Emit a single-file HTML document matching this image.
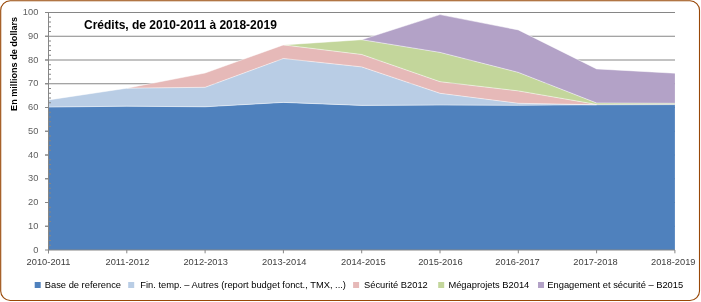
<!DOCTYPE html>
<html><head><meta charset="utf-8"><style>
html,body{margin:0;padding:0;background:#fff;}
body{width:701px;height:302px;overflow:hidden;}
svg{display:block;will-change:transform;}
text{font-family:"Liberation Sans",sans-serif;}
.ax{font-size:9.7px;fill:#606060;}
.ax2{font-size:9.7px;fill:#404040;}
.lg{font-size:9.33px;fill:#000;}
.title{font-size:12px;font-weight:bold;fill:#000;}
.yt{font-size:9.1px;font-weight:bold;fill:#000;}
</style></head><body>
<svg width="701" height="302" viewBox="0 0 701 302">
<rect x="0" y="0" width="701" height="302" fill="#fff"/>
<line x1="45" y1="226.25" x2="675" y2="226.25" stroke="#868686" stroke-width="1"/><line x1="45" y1="202.5" x2="675" y2="202.5" stroke="#868686" stroke-width="1"/><line x1="45" y1="178.75" x2="675" y2="178.75" stroke="#868686" stroke-width="1"/><line x1="45" y1="155" x2="675" y2="155" stroke="#868686" stroke-width="1"/><line x1="45" y1="131.25" x2="675" y2="131.25" stroke="#868686" stroke-width="1"/><line x1="45" y1="107.5" x2="675" y2="107.5" stroke="#868686" stroke-width="1"/><line x1="45" y1="83.75" x2="675" y2="83.75" stroke="#868686" stroke-width="1"/><line x1="45" y1="60" x2="675" y2="60" stroke="#868686" stroke-width="1"/><line x1="45" y1="36.25" x2="675" y2="36.25" stroke="#868686" stroke-width="1"/><line x1="45" y1="12.5" x2="675" y2="12.5" stroke="#868686" stroke-width="1"/>
<polygon points="48.5,107.1 126.8,106.2 205.1,106.8 283.4,102.4 361.7,105.4 440,105.1 518.3,105.3 596.6,104.8 674.9,104.6 674.9,250 48.5,250" fill="#4F81BD"/><polygon points="48.5,99.9 126.8,88.2 205.1,87.3 283.4,58.5 361.7,66.9 440,93.3 518.3,103.3 596.6,104.8 674.9,104.6 674.9,104.6 596.6,104.8 518.3,105.3 440,105.1 361.7,105.4 283.4,102.4 205.1,106.8 126.8,106.2 48.5,107.1" fill="#B9CDE5"/><polygon points="48.5,99.9 126.8,88.2 205.1,73 283.4,44.9 361.7,54.5 440,81.7 518.3,90.9 596.6,104.4 674.9,104.3 674.9,104.6 596.6,104.8 518.3,103.3 440,93.3 361.7,66.9 283.4,58.5 205.1,87.3 126.8,88.2 48.5,99.9" fill="#E6B9B8"/><polygon points="48.5,99.9 126.8,88.2 205.1,73 283.4,44.9 361.7,39.7 440,52.4 518.3,72.4 596.6,103 674.9,103.3 674.9,104.3 596.6,104.4 518.3,90.9 440,81.7 361.7,54.5 283.4,44.9 205.1,73 126.8,88.2 48.5,99.9" fill="#C3D69B"/><polygon points="48.5,99.9 126.8,88.2 205.1,73.1 283.4,44.9 361.7,39.7 440,14.6 518.3,29.9 596.6,68.9 674.9,73.2 674.9,103.3 596.6,103 518.3,72.4 440,52.4 361.7,39.7 283.4,44.9 205.1,73 126.8,88.2 48.5,99.9" fill="#B3A2C7"/>
<line x1="48.5" y1="107.1" x2="126.8" y2="106.2" stroke="#fff" stroke-width="0.5"/><line x1="126.8" y1="106.2" x2="205.1" y2="106.8" stroke="#fff" stroke-width="0.5"/><line x1="205.1" y1="106.8" x2="283.4" y2="102.4" stroke="#fff" stroke-width="0.5"/><line x1="283.4" y1="102.4" x2="361.7" y2="105.4" stroke="#fff" stroke-width="0.5"/><line x1="361.7" y1="105.4" x2="440" y2="105.1" stroke="#fff" stroke-width="0.5"/><line x1="440" y1="105.1" x2="518.3" y2="105.3" stroke="#fff" stroke-width="0.5"/><line x1="518.3" y1="105.3" x2="596.6" y2="104.8" stroke="#fff" stroke-width="0.5"/><line x1="596.6" y1="104.8" x2="674.9" y2="104.6" stroke="#fff" stroke-width="0.5"/><line x1="48.5" y1="99.9" x2="126.8" y2="88.2" stroke="#fff" stroke-width="0.5"/><line x1="126.8" y1="88.2" x2="205.1" y2="87.3" stroke="#fff" stroke-width="0.5"/><line x1="205.1" y1="87.3" x2="283.4" y2="58.5" stroke="#fff" stroke-width="0.5"/><line x1="283.4" y1="58.5" x2="361.7" y2="66.9" stroke="#fff" stroke-width="0.5"/><line x1="361.7" y1="66.9" x2="440" y2="93.3" stroke="#fff" stroke-width="0.5"/><line x1="440" y1="93.3" x2="518.3" y2="103.3" stroke="#fff" stroke-width="0.5"/><line x1="518.3" y1="103.3" x2="596.6" y2="104.8" stroke="#fff" stroke-width="0.5"/><line x1="126.8" y1="88.2" x2="205.1" y2="73" stroke="#fff" stroke-width="0.5"/><line x1="205.1" y1="73" x2="283.4" y2="44.9" stroke="#fff" stroke-width="0.5"/><line x1="283.4" y1="44.9" x2="361.7" y2="54.5" stroke="#fff" stroke-width="0.5"/><line x1="361.7" y1="54.5" x2="440" y2="81.7" stroke="#fff" stroke-width="0.5"/><line x1="440" y1="81.7" x2="518.3" y2="90.9" stroke="#fff" stroke-width="0.5"/><line x1="518.3" y1="90.9" x2="596.6" y2="104.4" stroke="#fff" stroke-width="0.5"/><line x1="283.4" y1="44.9" x2="361.7" y2="39.7" stroke="#fff" stroke-width="0.5"/><line x1="361.7" y1="39.7" x2="440" y2="52.4" stroke="#fff" stroke-width="0.5"/><line x1="440" y1="52.4" x2="518.3" y2="72.4" stroke="#fff" stroke-width="0.5"/><line x1="518.3" y1="72.4" x2="596.6" y2="103" stroke="#fff" stroke-width="0.5"/><line x1="596.6" y1="103" x2="674.9" y2="103.3" stroke="#fff" stroke-width="0.5"/><line x1="361.7" y1="39.7" x2="440" y2="14.6" stroke="#fff" stroke-width="0.5"/><line x1="440" y1="14.6" x2="518.3" y2="29.9" stroke="#fff" stroke-width="0.5"/><line x1="518.3" y1="29.9" x2="596.6" y2="68.9" stroke="#fff" stroke-width="0.5"/><line x1="596.6" y1="68.9" x2="674.9" y2="73.2" stroke="#fff" stroke-width="0.5"/>
<line x1="48.5" y1="12" x2="48.5" y2="253.3" stroke="#868686" stroke-width="1"/>
<line x1="48.5" y1="250" x2="675" y2="250" stroke="#868686" stroke-width="1"/>
<line x1="45" y1="250" x2="48.5" y2="250" stroke="#868686" stroke-width="1"/><line x1="45" y1="226.25" x2="48.5" y2="226.25" stroke="#868686" stroke-width="1"/><line x1="45" y1="202.5" x2="48.5" y2="202.5" stroke="#868686" stroke-width="1"/><line x1="45" y1="178.75" x2="48.5" y2="178.75" stroke="#868686" stroke-width="1"/><line x1="45" y1="155" x2="48.5" y2="155" stroke="#868686" stroke-width="1"/><line x1="45" y1="131.25" x2="48.5" y2="131.25" stroke="#868686" stroke-width="1"/><line x1="45" y1="107.5" x2="48.5" y2="107.5" stroke="#868686" stroke-width="1"/><line x1="45" y1="83.75" x2="48.5" y2="83.75" stroke="#868686" stroke-width="1"/><line x1="45" y1="60" x2="48.5" y2="60" stroke="#868686" stroke-width="1"/><line x1="45" y1="36.25" x2="48.5" y2="36.25" stroke="#868686" stroke-width="1"/><line x1="45" y1="12.5" x2="48.5" y2="12.5" stroke="#868686" stroke-width="1"/><line x1="48.5" y1="245.25" x2="51" y2="245.25" stroke="#868686" stroke-width="1"/><line x1="48.5" y1="240.5" x2="51" y2="240.5" stroke="#868686" stroke-width="1"/><line x1="48.5" y1="235.75" x2="51" y2="235.75" stroke="#868686" stroke-width="1"/><line x1="48.5" y1="231" x2="51" y2="231" stroke="#868686" stroke-width="1"/><line x1="48.5" y1="221.5" x2="51" y2="221.5" stroke="#868686" stroke-width="1"/><line x1="48.5" y1="216.75" x2="51" y2="216.75" stroke="#868686" stroke-width="1"/><line x1="48.5" y1="212" x2="51" y2="212" stroke="#868686" stroke-width="1"/><line x1="48.5" y1="207.25" x2="51" y2="207.25" stroke="#868686" stroke-width="1"/><line x1="48.5" y1="197.75" x2="51" y2="197.75" stroke="#868686" stroke-width="1"/><line x1="48.5" y1="193" x2="51" y2="193" stroke="#868686" stroke-width="1"/><line x1="48.5" y1="188.25" x2="51" y2="188.25" stroke="#868686" stroke-width="1"/><line x1="48.5" y1="183.5" x2="51" y2="183.5" stroke="#868686" stroke-width="1"/><line x1="48.5" y1="174" x2="51" y2="174" stroke="#868686" stroke-width="1"/><line x1="48.5" y1="169.25" x2="51" y2="169.25" stroke="#868686" stroke-width="1"/><line x1="48.5" y1="164.5" x2="51" y2="164.5" stroke="#868686" stroke-width="1"/><line x1="48.5" y1="159.75" x2="51" y2="159.75" stroke="#868686" stroke-width="1"/><line x1="48.5" y1="150.25" x2="51" y2="150.25" stroke="#868686" stroke-width="1"/><line x1="48.5" y1="145.5" x2="51" y2="145.5" stroke="#868686" stroke-width="1"/><line x1="48.5" y1="140.75" x2="51" y2="140.75" stroke="#868686" stroke-width="1"/><line x1="48.5" y1="136" x2="51" y2="136" stroke="#868686" stroke-width="1"/><line x1="48.5" y1="126.5" x2="51" y2="126.5" stroke="#868686" stroke-width="1"/><line x1="48.5" y1="121.75" x2="51" y2="121.75" stroke="#868686" stroke-width="1"/><line x1="48.5" y1="117" x2="51" y2="117" stroke="#868686" stroke-width="1"/><line x1="48.5" y1="112.25" x2="51" y2="112.25" stroke="#868686" stroke-width="1"/><line x1="48.5" y1="102.75" x2="51" y2="102.75" stroke="#868686" stroke-width="1"/><line x1="48.5" y1="98" x2="51" y2="98" stroke="#868686" stroke-width="1"/><line x1="48.5" y1="93.25" x2="51" y2="93.25" stroke="#868686" stroke-width="1"/><line x1="48.5" y1="88.5" x2="51" y2="88.5" stroke="#868686" stroke-width="1"/><line x1="48.5" y1="79" x2="51" y2="79" stroke="#868686" stroke-width="1"/><line x1="48.5" y1="74.25" x2="51" y2="74.25" stroke="#868686" stroke-width="1"/><line x1="48.5" y1="69.5" x2="51" y2="69.5" stroke="#868686" stroke-width="1"/><line x1="48.5" y1="64.75" x2="51" y2="64.75" stroke="#868686" stroke-width="1"/><line x1="48.5" y1="55.25" x2="51" y2="55.25" stroke="#868686" stroke-width="1"/><line x1="48.5" y1="50.5" x2="51" y2="50.5" stroke="#868686" stroke-width="1"/><line x1="48.5" y1="45.75" x2="51" y2="45.75" stroke="#868686" stroke-width="1"/><line x1="48.5" y1="41" x2="51" y2="41" stroke="#868686" stroke-width="1"/><line x1="48.5" y1="31.5" x2="51" y2="31.5" stroke="#868686" stroke-width="1"/><line x1="48.5" y1="26.75" x2="51" y2="26.75" stroke="#868686" stroke-width="1"/><line x1="48.5" y1="22" x2="51" y2="22" stroke="#868686" stroke-width="1"/><line x1="48.5" y1="17.25" x2="51" y2="17.25" stroke="#868686" stroke-width="1"/><line x1="48.5" y1="250" x2="48.5" y2="253.3" stroke="#868686" stroke-width="1"/><line x1="126.8" y1="250" x2="126.8" y2="253.3" stroke="#868686" stroke-width="1"/><line x1="205.1" y1="250" x2="205.1" y2="253.3" stroke="#868686" stroke-width="1"/><line x1="283.4" y1="250" x2="283.4" y2="253.3" stroke="#868686" stroke-width="1"/><line x1="361.7" y1="250" x2="361.7" y2="253.3" stroke="#868686" stroke-width="1"/><line x1="440" y1="250" x2="440" y2="253.3" stroke="#868686" stroke-width="1"/><line x1="518.3" y1="250" x2="518.3" y2="253.3" stroke="#868686" stroke-width="1"/><line x1="596.6" y1="250" x2="596.6" y2="253.3" stroke="#868686" stroke-width="1"/><line x1="674.9" y1="250" x2="674.9" y2="253.3" stroke="#868686" stroke-width="1"/>
<text transform="translate(38.4,252.6) scale(0.96,1)" text-anchor="end" class="ax">0</text><text transform="translate(38.4,228.85) scale(0.96,1)" text-anchor="end" class="ax">10</text><text transform="translate(38.4,205.1) scale(0.96,1)" text-anchor="end" class="ax">20</text><text transform="translate(38.4,181.35) scale(0.96,1)" text-anchor="end" class="ax">30</text><text transform="translate(38.4,157.6) scale(0.96,1)" text-anchor="end" class="ax">40</text><text transform="translate(38.4,133.85) scale(0.96,1)" text-anchor="end" class="ax">50</text><text transform="translate(38.4,110.1) scale(0.96,1)" text-anchor="end" class="ax">60</text><text transform="translate(38.4,86.35) scale(0.96,1)" text-anchor="end" class="ax">70</text><text transform="translate(38.4,62.6) scale(0.96,1)" text-anchor="end" class="ax">80</text><text transform="translate(38.4,38.85) scale(0.96,1)" text-anchor="end" class="ax">90</text><text transform="translate(38.4,15.1) scale(0.96,1)" text-anchor="end" class="ax">100</text>
<text transform="translate(26.6,265.15) scale(0.96,1)" class="ax2">2010-2011</text><text transform="translate(105.5,265.15) scale(0.96,1)" class="ax2">2011-2012</text><text transform="translate(183.4,265.15) scale(0.96,1)" class="ax2">2012-2013</text><text transform="translate(262,265.15) scale(0.96,1)" class="ax2">2013-2014</text><text transform="translate(341.1,265.15) scale(0.96,1)" class="ax2">2014-2015</text><text transform="translate(418.2,265.15) scale(0.96,1)" class="ax2">2015-2016</text><text transform="translate(495.3,265.15) scale(0.96,1)" class="ax2">2016-2017</text><text transform="translate(573.3,265.15) scale(0.96,1)" class="ax2">2017-2018</text><text transform="translate(651,265.15) scale(0.96,1)" class="ax2">2018-2019</text>
<text x="84" y="28.8" class="title">Crédits, de 2010-2011 à 2018-2019</text>
<text transform="translate(17.1,110.9) rotate(-90)" class="yt">En millions de dollars</text>
<rect x="34.7" y="282" width="6" height="6" fill="#4F81BD"/><text x="44.8" y="288.3" class="lg">Base de reference</text><rect x="128.2" y="282" width="6" height="6" fill="#B9CDE5"/><text x="140.3" y="288.3" class="lg">Fin. temp. – Autres (report budget fonct., TMX, ...)</text><rect x="353.1" y="282" width="6" height="6" fill="#E6B9B8"/><text x="364.0" y="288.3" class="lg">Sécurité B2012</text><rect x="438.2" y="282" width="6" height="6" fill="#C3D69B"/><text x="448.4" y="288.3" class="lg">Mégaprojets B2014</text><rect x="538.0" y="282" width="6" height="6" fill="#B3A2C7"/><text x="547.3" y="288.3" class="lg">Engagement et sécurité – B2015</text>
<rect x="0.7" y="0.75" width="698.8" height="299.75" rx="9.5" ry="9.5" fill="none" stroke="#984807" stroke-width="1.1"/>
</svg>
</body></html>
